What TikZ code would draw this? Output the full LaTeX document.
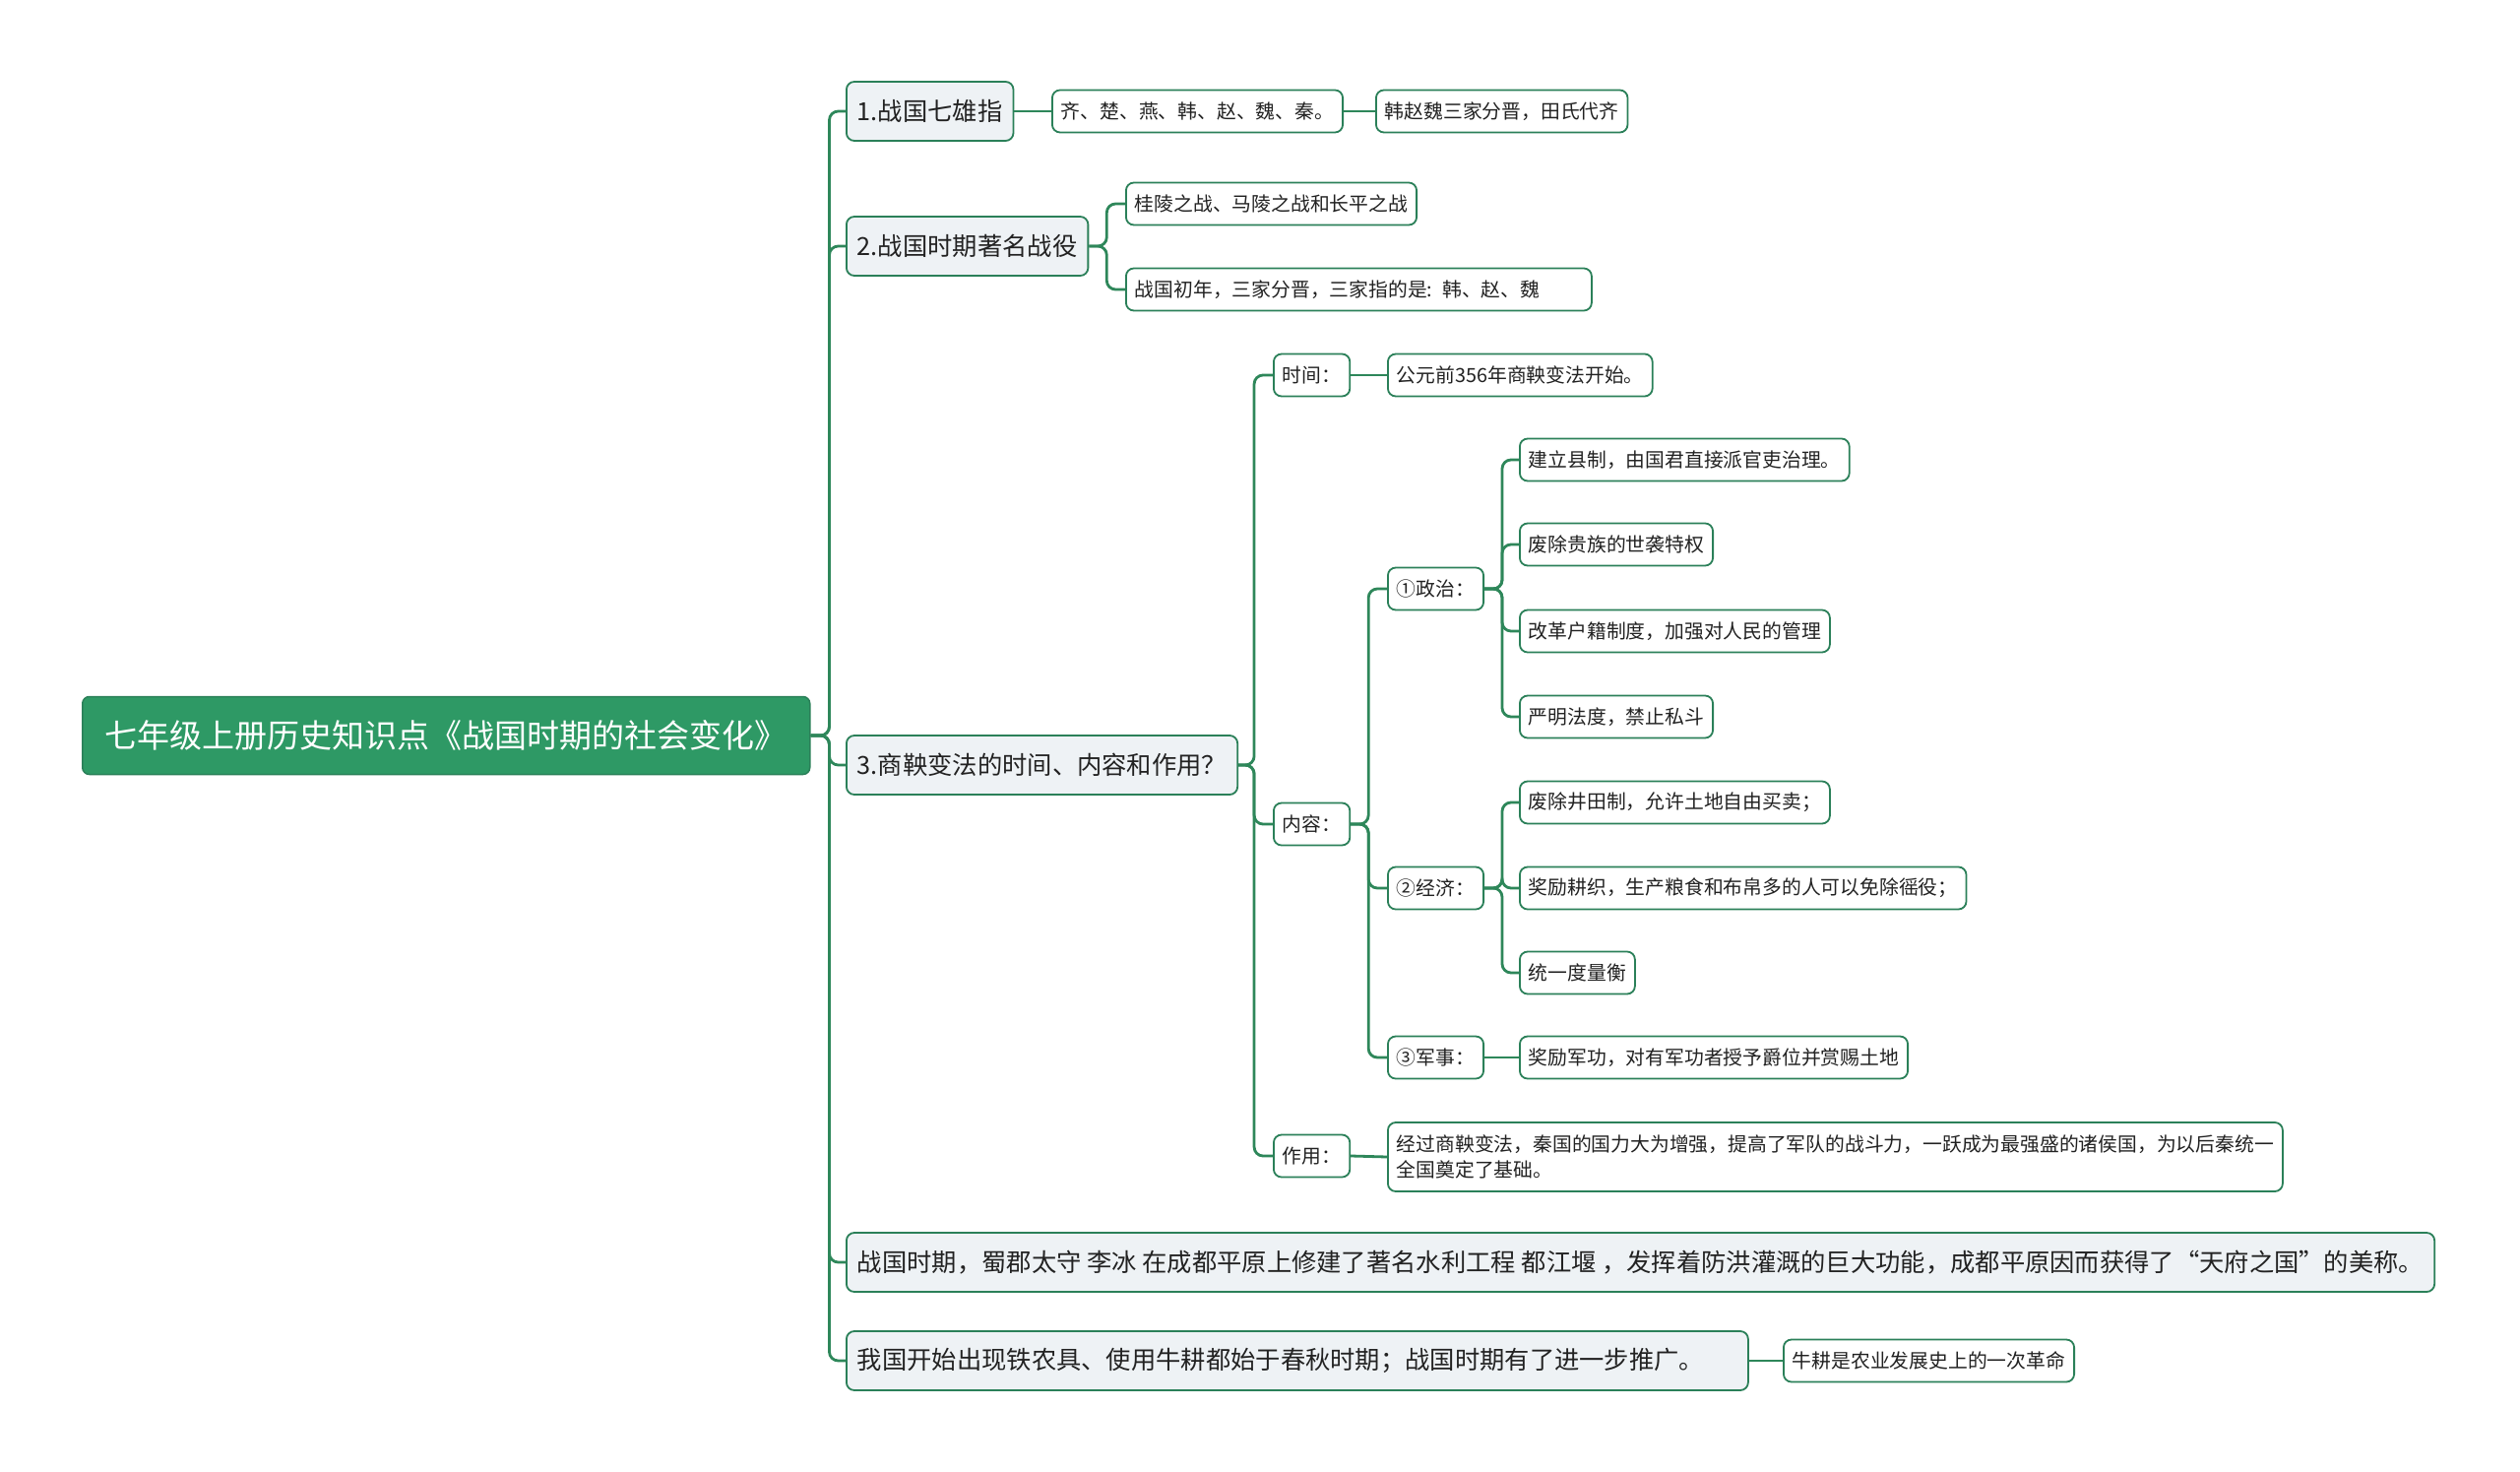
\documentclass[tikz,border=0pt]{standalone}
\usepackage{fontspec}
\setmainfont{Noto Sans CJK SC}
\definecolor{lc}{RGB}{46,135,90}
\definecolor{bc}{RGB}{43,128,89}
\definecolor{rootc}{RGB}{46,153,101}
\definecolor{l1c}{RGB}{238,242,245}
\definecolor{tc}{RGB}{34,34,34}
\tikzset{
  conn/.style={draw=lc, line width=2.8pt, rounded corners=9pt},
  rootbox/.style={draw=bc, fill=rootc, line width=1.5pt, rounded corners=7pt, text=white,
    font=\fontsize{33}{40}\selectfont, inner xsep=23pt, inner ysep=6pt, minimum height=79pt, anchor=west},
  lonebox/.style={draw=bc, fill=l1c, line width=1.8pt, rounded corners=8pt, text=tc,
    font=\fontsize{25.3}{30}\selectfont, inner xsep=11pt, inner ysep=6pt, minimum height=60pt, anchor=west},
  ltwobox/.style={draw=bc, fill=white, line width=1.8pt, rounded corners=8pt, text=tc,
    font=\fontsize{19.8}{26}\selectfont, inner xsep=9pt, inner ysep=6pt, minimum height=43pt, anchor=west},
}
\begin{document}
\begin{tikzpicture}[x=1pt,y=-1pt]
\useasboundingbox (0,0) rectangle (2560,1495);
\fill[white] (0,0) rectangle (2560,1495);

% root
\node[rootbox] (root) at (83,747) {七年级上册历史知识点《战国时期的社会变化》};

% level 1
\node[lonebox] (n1) at (859,113) {1.战国七雄指};
\node[lonebox] (n2) at (859,250) {2.战国时期著名战役};
\node[lonebox] (n3) at (859,777) {3.商鞅变法的时间、内容和作用？};
\node[lonebox] (n4) at (859,1282) {战国时期，蜀郡太守 李冰 在成都平原上修建了著名水利工程 都江堰 ，发挥着防洪灌溉的巨大功能，成都平原因而获得了“天府之国”的美称。};
\node[lonebox, text width=894pt, align=left] (n5) at (859,1382) {我国开始出现铁农具、使用牛耕都始于春秋时期；战国时期有了进一步推广。};

% level 2+
\node[ltwobox] (a1) at (1068,113) {齐、楚、燕、韩、赵、魏、秦。};
\node[ltwobox] (a2) at (1397,113) {韩赵魏三家分晋，田氏代齐};
\node[ltwobox] (b1) at (1143,207) {桂陵之战、马陵之战和长平之战};
\node[ltwobox, text width=455pt, align=left] (b2) at (1143,294) {战国初年，三家分晋，三家指的是: 韩、赵、魏};

\node[ltwobox] (c1) at (1293,381) {时间：};
\node[ltwobox] (c1a) at (1409,381) {公元前356年商鞅变法开始。};
\node[ltwobox] (c2) at (1293,837) {内容：};
\node[ltwobox] (c3) at (1293,1174) {作用：};
\node[ltwobox, align=left, minimum height=70pt] (c3a) at (1409,1175) {经过商鞅变法，秦国的国力大为增强，提高了军队的战斗力，一跃成为最强盛的诸侯国，为以后秦统一\\全国奠定了基础。};

\node[ltwobox] (p) at (1409,598) {①政治：};
\node[ltwobox] (p1) at (1543,467) {建立县制，由国君直接派官吏治理。};
\node[ltwobox] (p2) at (1543,553) {废除贵族的世袭特权};
\node[ltwobox] (p3) at (1543,641) {改革户籍制度，加强对人民的管理};
\node[ltwobox] (p4) at (1543,728) {严明法度，禁止私斗};

\node[ltwobox] (e) at (1409,902) {②经济：};
\node[ltwobox] (e1) at (1543,815) {废除井田制，允许土地自由买卖；};
\node[ltwobox] (e2) at (1543,902) {奖励耕织，生产粮食和布帛多的人可以免除徭役；};
\node[ltwobox] (e3) at (1543,988) {统一度量衡};

\node[ltwobox] (m) at (1409,1074) {③军事：};
\node[ltwobox] (m1) at (1543,1074) {奖励军功，对有军功者授予爵位并赏赐土地};

\node[ltwobox] (f) at (1811,1382) {牛耕是农业发展史上的一次革命};

% connectors
\foreach \t in {n1,n2,n3,n4,n5}
  \draw[conn] (root.east) -- ++(19,0) |- (\t.west);
\draw[conn] (n1.east) -- (a1.west);
\draw[conn] (a1.east) -- (a2.west);
\foreach \t in {b1,b2}
  \draw[conn] (n2.east) -- ++(18,0) |- (\t.west);
\foreach \t in {c1,c2,c3}
  \draw[conn] (n3.east) -- ++(16,0) |- (\t.west);
\draw[conn] (c1.east) -- (c1a.west);
\draw[conn] (c3.east) -- (c3a.west);
\foreach \t in {p,e,m}
  \draw[conn] (c2.east) -- ++(18,0) |- (\t.west);
\foreach \t in {p1,p2,p3,p4}
  \draw[conn] (p.east) -- ++(18,0) |- (\t.west);
\foreach \t in {e1,e2,e3}
  \draw[conn] (e.east) -- ++(18,0) |- (\t.west);
\draw[conn] (m.east) -- (m1.west);
\draw[conn] (n5.east) -- (f.west);
\end{tikzpicture}
\end{document}
